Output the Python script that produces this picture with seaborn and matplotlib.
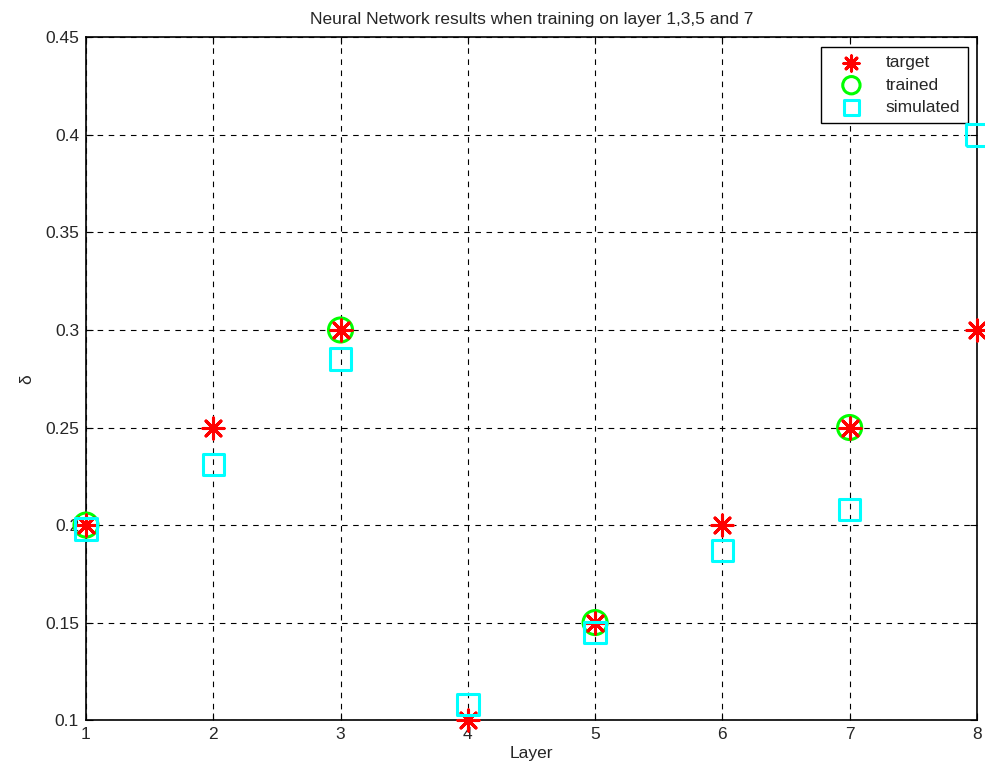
import numpy as np
import pandas as pd
import matplotlib
matplotlib.use('Agg')
import matplotlib.pyplot as plt
import seaborn as sns

# ── data ──────────────────────────────────────────────────────────────────
layers = [1, 2, 3, 4, 5, 6, 7, 8]
target = [0.20, 0.25, 0.30, 0.10, 0.15, 0.20, 0.25, 0.30]
trained_layers = [1, 3, 5, 7]
trained = [0.20, 0.30, 0.15, 0.25]
simulated = [0.198, 0.231, 0.285, 0.108, 0.145, 0.187, 0.208, 0.400]

sns.set_style('white')
plt.rcParams['font.family'] = ['Liberation Sans', 'DejaVu Sans']
FS = 12.5

fig = plt.figure(figsize=(9.85, 7.71), dpi=100)
ax = fig.add_axes([0.0873, 0.066, 0.9045, 0.8855])

sns.scatterplot(x=layers, y=target, ax=ax, marker=(8, 2, 0), s=230,
                color='red', linewidth=2.2, label='target', clip_on=False, zorder=5)
sns.scatterplot(x=trained_layers, y=trained, ax=ax, marker='o', s=300,
                facecolor='none', edgecolor='#00ff00', linewidth=2.2,
                label='trained', clip_on=False, zorder=4)
sns.scatterplot(x=layers, y=simulated, ax=ax, marker='s', s=240,
                facecolor='none', edgecolor='cyan', linewidth=2.2,
                label='simulated', clip_on=False, zorder=6)

ax.set_xlim(1, 8)
ax.set_ylim(0.1, 0.45)
ax.set_xticks(layers)
ax.set_yticks([0.1, 0.15, 0.2, 0.25, 0.3, 0.35, 0.4, 0.45])
ax.set_yticklabels(['0.1', '0.15', '0.2', '0.25', '0.3', '0.35', '0.4', '0.45'])
ax.grid(True, color='black', linestyle=(0, (5, 5)), linewidth=0.8)
ax.tick_params(direction='in', length=5, labelsize=FS, color='black', pad=5,
               top=True, right=True, left=True, bottom=True)
for sp in ax.spines.values():
    sp.set_color('black')
    sp.set_linewidth(1.2)

ax.set_title('Neural Network results when training on layer 1,3,5 and 7',
             fontsize=FS, pad=10)
ax.set_xlabel('Layer', fontsize=FS, labelpad=3)
ax.set_ylabel('δ', fontsize=FS, labelpad=8)

leg = ax.legend(loc='upper right', bbox_to_anchor=(0.9895, 0.9854), fontsize=FS,
                frameon=True, fancybox=False, edgecolor='black', framealpha=1,
                markerscale=0.72, borderpad=0.45, borderaxespad=0,
                handlelength=2.6, handletextpad=0.65, labelspacing=0.42)
leg.get_frame().set_linewidth(1.0)

plt.savefig('out.png', dpi=100)
plt.close()
